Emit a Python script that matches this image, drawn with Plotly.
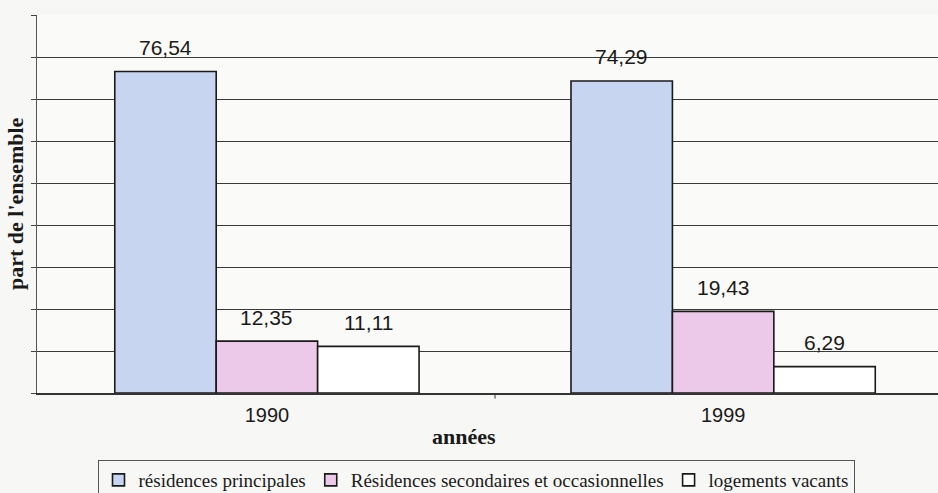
import plotly.graph_objects as go

years = ["1990", "1999"]
series_names = ["résidences principales",
                "Résidences secondaires et occasionnelles",
                "logements vacants"]
principales = [76.54, 74.29]
secondaires = [12.35, 19.43]
vacants = [11.11, 6.29]
values = [principales, secondaires, vacants]
colors = ["#c8d5f1", "#ecc9e8", "#ffffff"]
y_ticks = list(range(0, 91, 10))

fig = go.Figure()
for name, vals, col in zip(series_names, values, colors):
    fig.add_trace(go.Bar(
        x=[0, 1], y=vals, name=name,
        marker=dict(color=col, line=dict(color="#1a1a1a", width=1.6)),
    ))

# value labels
offsets = [-101.5, 0, 101.5]
for vals, dx in zip(values, offsets):
    for i, v in enumerate(vals):
        fig.add_annotation(
            x=i, y=v, xref="x", yref="y", xshift=dx, yshift=24,
            text=f"{v:.2f}".replace(".", ","), showarrow=False,
            font=dict(family="Liberation Sans, Arial", size=21, color="#1a1a1a"),
            xanchor="center", yanchor="middle",
        )

fig.add_annotation(
    x=(464 - 37) / 901, y=(393 - 436) / 378, xref="paper", yref="paper",
    text="<b>années</b>", showarrow=False,
    font=dict(family="Liberation Serif", size=22, color="#1a1a1a"),
    xanchor="center", yanchor="middle",
)
fig.add_annotation(
    x=(15 - 37) / 901, y=(393 - 204) / 378, xref="paper", yref="paper",
    text="<b>part de l'ensemble</b>", textangle=-90, showarrow=False,
    font=dict(family="Liberation Serif", size=22, color="#1a1a1a"),
    xanchor="center", yanchor="middle",
)

fig.update_layout(
    width=938, height=493,
    margin=dict(l=37, r=0, t=15, b=100, autoexpand=False),
    paper_bgcolor="#f7f7f5", plot_bgcolor="#fafaf8",
    barmode="group", bargap=0.333, bargroupgap=0,
    showlegend=True,
    legend=dict(
        orientation="h", x=(476 - 37) / 901, xanchor="center",
        y=(393 - 460) / 378, yanchor="top",
        bordercolor="#555555", borderwidth=1, bgcolor="rgba(0,0,0,0)",
        font=dict(family="Liberation Serif", size=19, color="#1a1a1a"),
        tracegroupgap=0,
    ),
    xaxis=dict(
        tickmode="array", tickvals=[0, 1], ticktext=years,
        range=[-0.504, 1.471], showgrid=False,
        showline=True, linecolor="#333333", linewidth=1.5,
        ticks="", zeroline=False, ticklabelstandoff=3,
        tickfont=dict(family="Liberation Sans, Arial", size=20, color="#1a1a1a"),
    ),
    yaxis=dict(
        range=[0, 90], tickvals=y_ticks, showticklabels=False,
        ticks="outside", ticklen=5, tickcolor="#444444",
        showgrid=True, gridcolor="#3a3a3a", gridwidth=1,
        showline=True, linecolor="#555555", linewidth=1.2,
        zeroline=False,
    ),
)
# boundary tick between the two categories
fig.add_shape(type="line", xref="x", yref="paper", x0=0.5, x1=0.5,
              y0=0, y1=-0.015, line=dict(color="#333333", width=1))

fig.write_html("out.html", config={"displayModeBar": False},
               post_script="document.body.style.margin='0';document.body.style.padding='0';")
